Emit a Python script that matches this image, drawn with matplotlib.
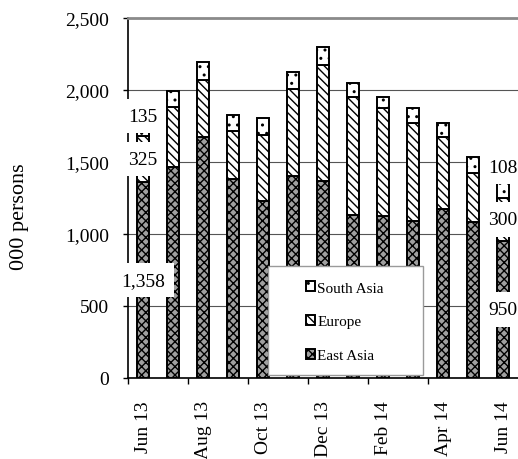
import matplotlib
matplotlib.use('Agg')
import matplotlib.pyplot as plt
from matplotlib.patches import Rectangle

plt.rcParams['font.family'] = ['Liberation Serif', 'DejaVu Serif']

months = ['Jun 13', 'Jul 13', 'Aug 13', 'Sep 13', 'Oct 13', 'Nov 13', 'Dec 13',
          'Jan 14', 'Feb 14', 'Mar 14', 'Apr 14', 'May 14', 'Jun 14']
east_asia = [1358, 1465, 1674, 1382, 1229, 1403, 1368, 1132, 1125, 1090, 1174, 1083, 950]
europe = [325, 417, 395, 333, 459, 604, 806, 819, 750, 681, 500, 341, 300]
south_asia = [135, 111, 125, 111, 118, 119, 125, 98, 76, 104, 97, 111, 108]
yticks = [0, 500, 1000, 1500, 2000, 2500]
labelled = [0, 12]          # bars that carry data labels
sa_label_shift = [0, 11]    # points, south asia label lift

fig = plt.figure(figsize=(5.18, 4.60), dpi=100)
ax = fig.add_axes([128 / 518, 81 / 460, 390 / 518, 360 / 460])

x = list(range(len(months)))
bottom_eu = east_asia
bottom_sa = [a + b for a, b in zip(east_asia, europe)]
w = 0.42
kw = dict(width=w, edgecolor='black', linewidth=1.4, zorder=2)
b1 = ax.bar(x, east_asia, color='#a0a0a0', hatch='xxxx', label='East Asia', **kw)
b2 = ax.bar(x, europe, bottom=bottom_eu, color='white', hatch='\\\\\\\\', label='Europe', **kw)
b3 = ax.bar(x, south_asia, bottom=bottom_sa, color='white', hatch='..', label='South Asia', **kw)

ax.set_xlim(-0.5, len(months) - 0.5)
ax.set_ylim(0, 2500)
ax.set_yticks(yticks)
ax.set_yticklabels([f'{v:,}' for v in yticks])
ax.yaxis.grid(True, color='#555555', linewidth=0.8, zorder=0)
ax.set_axisbelow(True)

ax.set_xticks([i - 0.5 for i in range(0, len(months) - 1, 2)])
ax.set_xticklabels([])
ax.set_xticks(x[::2], minor=True)
ax.set_xticklabels(months[::2], minor=True, rotation=90, va='top', fontsize=14)
ax.tick_params(axis='x', which='minor', length=0, pad=16)
ax.tick_params(axis='x', which='major', length=4, width=1, direction='out')
ax.tick_params(axis='y', length=3.6, width=1, pad=10, labelsize=14)

ax.spines['right'].set_visible(False)
ax.spines['top'].set_color('#8a8a8a')
ax.spines['top'].set_linewidth(2)
ax.spines['left'].set_linewidth(1.2)
ax.spines['bottom'].set_linewidth(1.2)

ax.set_ylabel('000 persons', fontsize=16)
ax.yaxis.set_label_coords(-0.255, 0.45)

box = dict(boxstyle='square,pad=0.45', facecolor='white', edgecolor='none')
for k, i in enumerate(labelled):
    ax.text(i, east_asia[i] / 2, f'{east_asia[i]:,}', ha='center', va='center',
            fontsize=14, bbox=box, zorder=6, clip_on=False)
    ax.text(i, east_asia[i] + europe[i] / 2, f'{europe[i]:,}', ha='center', va='center',
            fontsize=14, bbox=box, zorder=6, clip_on=False)
    ax.annotate(f'{south_asia[i]:,}', (i, bottom_sa[i] + south_asia[i]),
                xytext=(0, sa_label_shift[k]), textcoords='offset points',
                ha='center', va='center', fontsize=14, bbox=box, zorder=6,
                annotation_clip=False)

ax.add_patch(Rectangle((0.359, 0.008), 0.397, 0.303, transform=ax.transAxes,
                       facecolor='white', edgecolor='#9a9a9a', linewidth=1, zorder=4))
leg = ax.legend([b3, b2, b1], ['South Asia', 'Europe', 'East Asia'], loc='center',
                bbox_to_anchor=(0.556, 0.156), frameon=False, fontsize=11,
                handlelength=0.6, handleheight=0.6, handletextpad=0.15,
                labelspacing=1.35)
leg.set_zorder(5)

fig.savefig('out.png', dpi=100)
